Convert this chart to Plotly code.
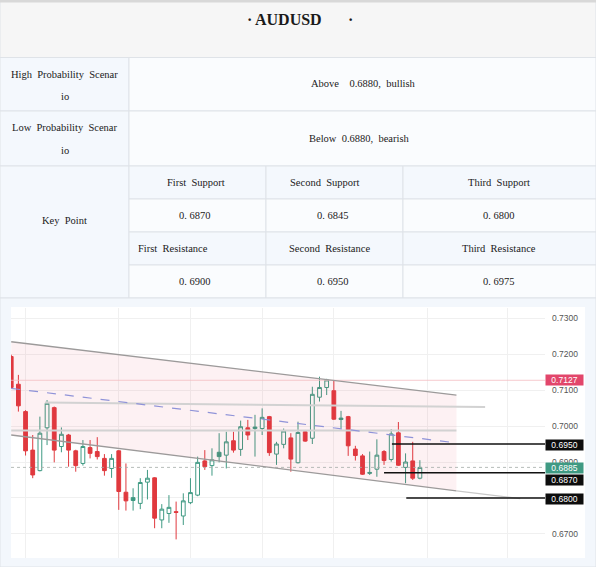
import plotly.graph_objects as go

W, H = 596, 567

# ---------------- table content ----------------
table_title = "AUDUSD"
scenario_names = ["High\u00a0 Probability\u00a0 Scenar", "Low\u00a0 Probability\u00a0 Scenar"]
scenario_tail = ["io", "io"]
scenario_texts = ["Above\u00a0 \u00a0 0.6880,\u00a0 bullish", "Below\u00a0 0.6880,\u00a0 bearish"]
key_point_label = "Key\u00a0 Point"
support_names = ["First\u00a0 Support", "Second\u00a0 Support", "Third\u00a0 Support"]
support_values = ["0. 6870", "0. 6845", "0. 6800"]
resistance_names = ["First\u00a0 Resistance", "Second\u00a0 Resistance", "Third\u00a0 Resistance"]
resistance_values = ["0. 6900", "0. 6950", "0. 6975"]

# ---------------- candle data (index = bar number) ----------------
opens = [0.7193, 0.7116, 0.7040, 0.6933, 0.6876, 0.6995, 0.7051, 0.6943, 0.6975, 0.6931,
         0.6896, 0.6940, 0.6929, 0.6910, 0.6882, 0.6931, 0.6816, 0.6801, 0.6785, 0.6844,
         0.6856, 0.6739, 0.6757, 0.6762, 0.6750, 0.6787, 0.6808, 0.6903, 0.6890, 0.6927,
         0.6919, 0.6959, 0.6935, 0.6995, 0.6993, 0.6993, 0.7026, 0.6922, 0.6949, 0.6967,
         0.6898, 0.6984, 0.6966, 0.7080, 0.7107, 0.7098, 0.7022, 0.7026, 0.6936, 0.6917,
         0.6871, 0.6880, 0.6929, 0.6907, 0.6981, 0.6885, 0.6903, 0.6855]
highs = [0.7198, 0.7142, 0.7044, 0.6975, 0.7026, 0.7072, 0.7054, 0.6996, 0.6978, 0.6934,
         0.6961, 0.6961, 0.6969, 0.6922, 0.6922, 0.6933, 0.6896, 0.6827, 0.6855, 0.6878,
         0.6858, 0.6783, 0.6808, 0.6790, 0.6813, 0.6855, 0.6915, 0.6933, 0.6938, 0.6980,
         0.6984, 0.6984, 0.7015, 0.7017, 0.7031, 0.7049, 0.7028, 0.6956, 0.6993, 0.6980,
         0.7012, 0.6989, 0.7109, 0.7137, 0.7131, 0.7125, 0.7042, 0.7028, 0.6945, 0.6922,
         0.6929, 0.6963, 0.6933, 0.6991, 0.7011, 0.6924, 0.6956, 0.6905]
lows = [0.7104, 0.7040, 0.6918, 0.6855, 0.6874, 0.6947, 0.6899, 0.6927, 0.6887, 0.6873,
        0.6890, 0.6910, 0.6907, 0.6862, 0.6856, 0.6767, 0.6765, 0.6765, 0.6769, 0.6796,
        0.6716, 0.6716, 0.6731, 0.6685, 0.6725, 0.6783, 0.6805, 0.6878, 0.6862, 0.6899,
        0.6882, 0.6926, 0.6917, 0.6961, 0.6915, 0.6975, 0.6917, 0.6892, 0.6938, 0.6873,
        0.6896, 0.6956, 0.6950, 0.7068, 0.7086, 0.7017, 0.6993, 0.6917, 0.6904, 0.6864,
        0.6864, 0.6859, 0.6892, 0.6901, 0.6889, 0.6841, 0.6850, 0.6852]
closes = [0.7107, 0.7056, 0.6931, 0.6864, 0.6980, 0.7063, 0.6933, 0.6977, 0.6933, 0.6890,
          0.6943, 0.6924, 0.6915, 0.6876, 0.6910, 0.6818, 0.6792, 0.6793, 0.6843, 0.6855,
          0.6744, 0.6769, 0.6774, 0.6760, 0.6792, 0.6815, 0.6899, 0.6887, 0.6906, 0.6915,
          0.6956, 0.6933, 0.6998, 0.6975, 0.6997, 0.7024, 0.6926, 0.6950, 0.6986, 0.6908,
          0.6982, 0.6958, 0.7088, 0.7107, 0.7128, 0.7019, 0.7018, 0.6945, 0.6918, 0.6866,
          0.6869, 0.6919, 0.6904, 0.6978, 0.6891, 0.6900, 0.6855, 0.6885]
filled_green_bars = [17, 29, 46, 50]

# ---------------- drawings ----------------
channel_x = [0, 62.1]
channel_upper = [0.7234, 0.7086]
channel_lower = [0.6975, 0.6820]
channel_mid = [0.71045, 0.6953]
channel_ext_x = [62.1, 71.0]
channel_ext = [0.6820, 0.6798]
trend_x = [4.7, 66.1]
trend_y = [0.7065, 0.7053]
level_x = [0, 62.1]
level_y = [0.69875, 0.69875]
key_levels = [0.6950, 0.6870, 0.6800]
key_level_start = [53.1, 52.0, 55.1]
swing_high = 0.7127
last_price = 0.6885
price_ticks = [0.67, 0.68, 0.69, 0.70, 0.71, 0.72, 0.73]
date_grid = [2, 15, 25, 35, 45, 58.1, 69.2]
x_range = [-0.03, 74.45]
y_range = [0.66333, 0.73278]

RED = "#e0393e"
GREEN = "#3f9a83"
SERIF = "Liberation Serif, Times New Roman, serif"
SANS = "Liberation Sans, Arial, sans-serif"


def X(x):
    return x / W


def Y(y):
    return 1 - y / H


fig = go.Figure()

# channel fill
fig.add_trace(go.Scatter(x=channel_x + channel_x[::-1], y=channel_upper + channel_lower[::-1],
                         fill="toself", fillcolor="rgba(232,60,80,0.07)", mode="lines",
                         line=dict(width=0), hoverinfo="skip"))
# horizontal / trend lines
fig.add_trace(go.Scatter(x=trend_x, y=trend_y, mode="lines",
                         line=dict(color="#d2d2d2", width=2), hoverinfo="skip"))
fig.add_trace(go.Scatter(x=level_x, y=level_y, mode="lines",
                         line=dict(color="#d2d2d2", width=2), hoverinfo="skip"))
fig.add_trace(go.Scatter(x=x_range, y=[swing_high, swing_high], mode="lines",
                         line=dict(color="#f4bcc2", width=0.8), hoverinfo="skip"))
fig.add_trace(go.Scatter(x=x_range, y=[last_price, last_price], mode="lines",
                         line=dict(color="#a3aca8", width=0.8, dash="dot"), hoverinfo="skip"))
# channel lines
fig.add_trace(go.Scatter(x=channel_x, y=channel_upper, mode="lines",
                         line=dict(color="#9c9a9a", width=1.3), hoverinfo="skip"))
fig.add_trace(go.Scatter(x=channel_x, y=channel_lower, mode="lines",
                         line=dict(color="#9c9a9a", width=1.3), hoverinfo="skip"))
fig.add_trace(go.Scatter(x=channel_ext_x, y=channel_ext, mode="lines",
                         line=dict(color="#c8c8c8", width=1.3), hoverinfo="skip"))
fig.add_trace(go.Scatter(x=channel_x, y=channel_mid, mode="lines",
                         line=dict(color="#8f93d8", width=1.2, dash="dash"), hoverinfo="skip"))

# candles
n = len(opens)
main = [i for i in range(n) if i not in filled_green_bars]
fig.add_trace(go.Candlestick(
    x=main, open=[opens[i] for i in main], high=[highs[i] for i in main],
    low=[lows[i] for i in main], close=[closes[i] for i in main],
    increasing=dict(line=dict(color=GREEN, width=1), fillcolor="#ffffff"),
    decreasing=dict(line=dict(color=RED, width=1), fillcolor=RED),
    whiskerwidth=0, hoverinfo="skip"))
fig.add_trace(go.Candlestick(
    x=filled_green_bars, open=[opens[i] for i in filled_green_bars],
    high=[highs[i] for i in filled_green_bars], low=[lows[i] for i in filled_green_bars],
    close=[closes[i] for i in filled_green_bars],
    increasing=dict(line=dict(color=GREEN, width=1), fillcolor=GREEN),
    decreasing=dict(line=dict(color=GREEN, width=1), fillcolor=GREEN),
    whiskerwidth=0, hoverinfo="skip"))

# key levels
for lv, st in zip(key_levels, key_level_start):
    fig.add_trace(go.Scatter(x=[st, x_range[1]], y=[lv, lv], mode="lines",
                             line=dict(color="#111111", width=1.6), hoverinfo="skip"))

# ---------------- table shapes ----------------
LB = "#f4f8fd"
RB = "#fafcfe"
BORDER = "#dfe3e8"
cells = [
    (0, 1.5, 596, 57.5, "#f6f6f6"),
    (0, 57.5, 129, 111, LB), (129, 57.5, 596, 111, RB),
    (0, 111, 129, 166, LB), (129, 111, 596, 166, RB),
    (0, 166, 129, 298, LB),
]
col_edges = [129, 266, 403, 596]
row_edges = [166, 199, 232, 265, 298]
row_fill = [LB, RB, LB, RB]
for r in range(4):
    for c in range(3):
        cells.append((col_edges[c], row_edges[r], col_edges[c + 1], row_edges[r + 1], row_fill[r]))
cells.append((0, 298, 596, 567, "#f3f7fc"))

shapes = []
for x0, y0, x1, y1, f in cells:
    shapes.append(dict(type="rect", xref="paper", yref="paper", x0=X(x0), x1=X(x1),
                       y0=Y(y1), y1=Y(y0), fillcolor=f, line=dict(color=BORDER, width=1),
                       layer="below"))
shapes.append(dict(type="line", xref="paper", yref="paper", x0=0, x1=1, y0=Y(1.2), y1=Y(1.2),
                   line=dict(color="#d8d8d8", width=2.5), layer="below"))
# white chart panel
shapes.append(dict(type="rect", xref="paper", yref="paper", x0=X(11), x1=X(585),
                   y0=Y(558), y1=Y(307), fillcolor="#ffffff", line=dict(width=0), layer="below"))

ann = []


def txt(x, y, s, size=10.5, bold=False, anchor="center"):
    ann.append(dict(xref="paper", yref="paper", x=X(x), y=Y(y), text=("<b>%s</b>" % s) if bold else s,
                    showarrow=False, xanchor=anchor, yanchor="middle",
                    font=dict(family=SERIF, size=size, color="#1a1a1a")))


txt(249, 19, "·", 16, True)
txt(288.8, 19, table_title, 16, True)
txt(350.4, 19, "·", 16, True)
row_y = [(74, 96.7, 83.3), (127.7, 150, 138.3)]
text_cx = [363, 358.6]
for k in range(2):
    txt(64.5, row_y[k][0], scenario_names[k])
    txt(64.5, row_y[k][1], scenario_tail[k])
    txt(text_cx[k], row_y[k][2], scenario_texts[k])
txt(64, 220.7, key_point_label)
name_cx = [195.7, 324, 499.3]
val_cx = [195.4, 332.6, 498.7]
res_cx = [172.5, 329.7, 498.5]
for c in range(3):
    txt(name_cx[c], 182.3, support_names[c])
    txt(val_cx[c], 215.7, support_values[c])
    txt(res_cx[c], 248.3, resistance_names[c])
    txt(val_cx[c], 281.7, resistance_values[c])

# price labels
label_prices = [swing_high, key_levels[0], last_price, key_levels[1], key_levels[2]]
label_colors = ["#e2466b", "#0d0d0d", "#3f9a83", "#0d0d0d", "#0d0d0d"]
label_shift = [0, -1, -1, -7, -1]
for p, col, sh in zip(label_prices, label_colors, label_shift):
    ann.append(dict(xref="paper", yref="y", x=X(545), y=p, xanchor="left", yanchor="middle",
                    text="%.4f" % p, showarrow=False, bgcolor=col, width=37, height=9.5,
                    borderpad=0, yshift=sh, font=dict(family=SANS, size=8.5, color="#ffffff")))

fig.update_layout(
    width=W, height=H, margin=dict(l=0, r=0, t=0, b=0),
    paper_bgcolor="#ffffff", plot_bgcolor="#ffffff",
    showlegend=False, shapes=shapes, annotations=ann, boxgap=0.25,
    xaxis=dict(domain=[X(11), X(545)], range=x_range, showticklabels=False,
               tickvals=date_grid, showgrid=True, gridcolor="#f0f0f0", gridwidth=1,
               zeroline=False, showline=False, ticks="", rangeslider=dict(visible=False),
               fixedrange=True),
    yaxis=dict(domain=[Y(558), Y(308)], range=y_range, side="right",
               tickvals=price_ticks, ticktext=["%.4f" % v for v in price_ticks],
               tickfont=dict(family=SANS, size=8.5, color="#555555"),
               showgrid=True, gridcolor="#f0f0f0", zeroline=False, showline=False,
               ticks="", ticklabelstandoff=6, fixedrange=True),
)

fig.write_html("out.html", config={"displayModeBar": False},
               post_script="document.body.style.margin='0px';document.body.style.overflow='hidden';")
